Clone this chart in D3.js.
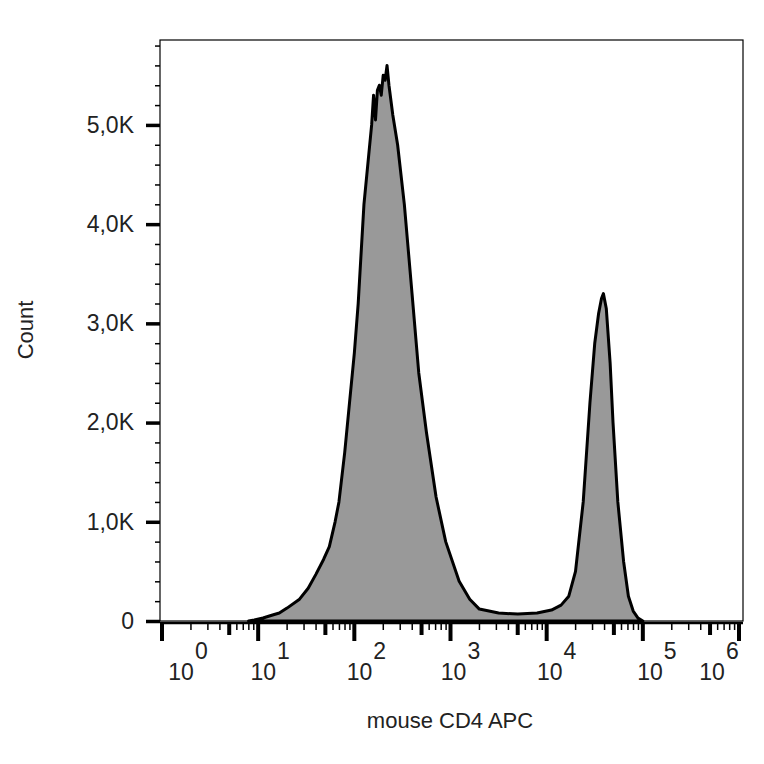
<!DOCTYPE html><html><head><script src="https://cdn.jsdelivr.net/npm/d3@7"></script>
<style>body{margin:0;background:#fff}</style></head><body><svg id="c" width="764" height="764"></svg>
<script>
const decades=[0.9,0.96,1.05,1.15,1.22,1.3,1.43,1.52,1.6,1.68,1.74,1.8,1.84,1.9,1.95,2.0,2.04,2.1,2.15,2.18,2.2,2.22,2.24,2.26,2.28,2.3,2.32,2.34,2.36,2.4,2.45,2.52,2.6,2.67,2.75,2.85,2.95,3.09,3.2,3.3,3.5,3.7,3.9,4.05,4.15,4.23,4.3,4.38,4.45,4.5,4.54,4.57,4.59,4.62,4.66,4.69,4.74,4.8,4.85,4.9,4.95,5.0];
const counts=[0,10,30,60,80,130,220,330,470,620,750,1000,1200,1700,2200,2700,3200,4200,4700,5000,5300,5050,5350,5400,5300,5500,5450,5600,5400,5100,4800,4200,3300,2500,1900,1250,800,400,220,120,80,70,80,110,160,250,500,1200,2200,2800,3100,3250,3300,3150,2600,2000,1200,600,250,100,30,0];
const yTicks=[0,1000,2000,3000,4000,5000];
const yLabels=["0","1,0K","2,0K","3,0K","4,0K","5,0K"];
const xMajor=[0,1,2,3,4,5,6];
const F="Arial, Liberation Sans";
const svg=d3.select("#c");
const x=d3.scaleLinear().domain([0,6]).range([162,739]);
const y=d3.scaleLinear().domain([0,5856]).range([621,40]);
svg.append("path").datum(decades.map((d,i)=>[d,counts[i]]))
 .attr("d",d3.area().x(d=>x(d[0])).y0(y(0)).y1(d=>y(d[1])))
 .attr("fill","#999").attr("stroke","#000").attr("stroke-width",3).attr("stroke-linejoin","round");
svg.append("rect").attr("x",160).attr("y",40).attr("width",583).attr("height",581).attr("fill","none").attr("stroke","#000").attr("stroke-width",1.2);
const ym=svg.append("g").attr("transform","translate(160,0)").call(d3.axisLeft(y).tickValues(d3.range(0,5801,200)).tickFormat("").tickSize(5));
ym.select(".domain").remove();ym.selectAll("line").attr("stroke-width",1.5);
const ya=svg.append("g").attr("transform","translate(160,0)").call(d3.axisLeft(y).tickValues(yTicks).tickFormat((d,i)=>yLabels[i]).tickSize(14).tickPadding(12));
ya.select(".domain").remove();
ya.selectAll("line").attr("stroke-width",3.5);
ya.selectAll("text").attr("font-family",F).attr("font-size",23).attr("fill","#222");
const g=svg.append("g");
g.append("line").attr("x1",160).attr("x2",743).attr("y1",623).attr("y2",623).attr("stroke","#000").attr("stroke-width",2.5);
for(let k=0;k<6;k++){for(let m=2;m<=9;m++){const px=x(k+Math.log10(m));
 g.append("line").attr("x1",px).attr("x2",px).attr("y1",623).attr("y2",m==5?635:630).attr("stroke","#000").attr("stroke-width",m==5?4:1.5);}}
xMajor.forEach(k=>{g.append("line").attr("x1",x(k)).attr("x2",x(k)).attr("y1",623).attr("y2",641).attr("stroke","#000").attr("stroke-width",4);});
const off=[26,12,12,10,10,14,-20];
xMajor.forEach((k,i)=>{const t=g.append("text").attr("x",x(k)+off[i]).attr("y",680).attr("text-anchor","middle").attr("font-family",F).attr("font-size",23).attr("fill","#222");
 t.append("tspan").text("10");t.append("tspan").attr("dy",-21).attr("dx",1).text(k);});
svg.append("text").attr("x",450).attr("y",728).attr("text-anchor","middle").attr("font-family",F).attr("font-size",22).attr("fill","#222").text("mouse CD4 APC");
svg.append("text").attr("transform","translate(33,330) rotate(-90)").attr("text-anchor","middle").attr("font-family",F).attr("font-size",22).attr("fill","#222").text("Count");
</script></body></html>
